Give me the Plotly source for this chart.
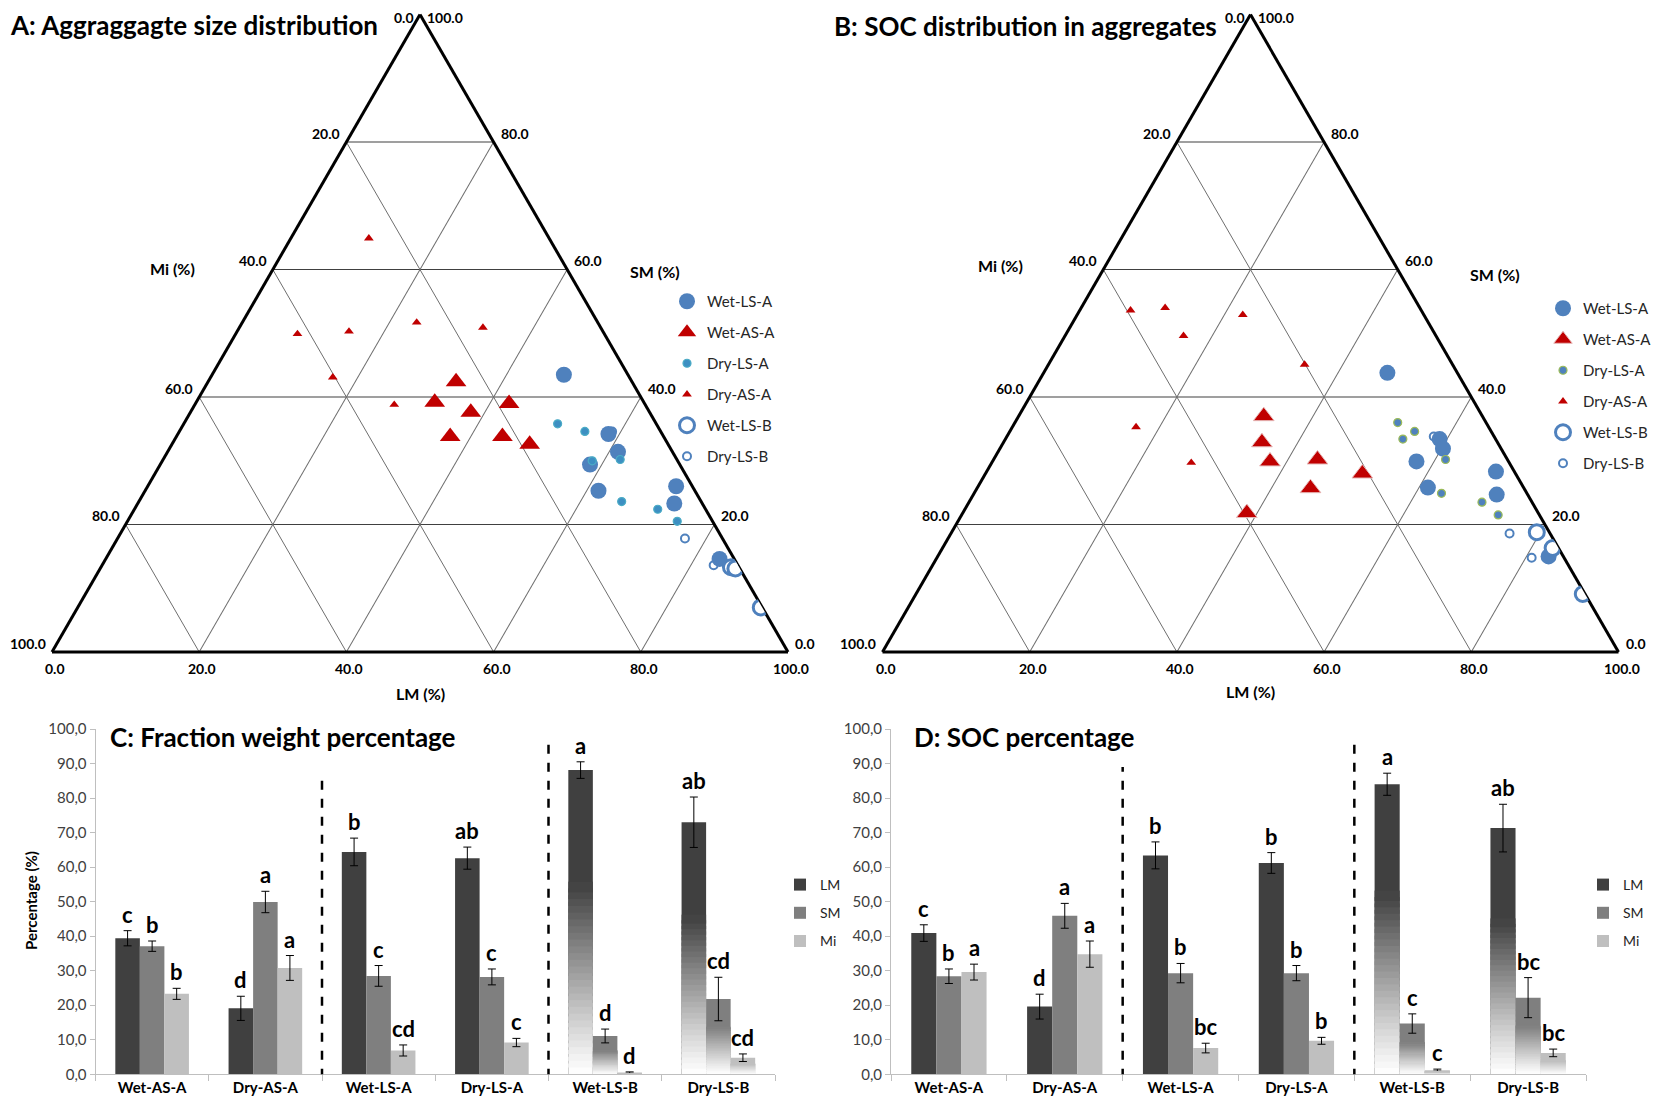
import plotly.graph_objects as go

FONT = "Lato"
W_FIG, H_FIG = 1660, 1107
PAGE_OFF = 8  # browser body margin shifts the figure by this many px

# ---------------- Ternary data (LM, SM, Mi in %) ----------------
# Panel A: aggregate size distribution
A_wls_a_lm = [47.8, 58.5, 61.2, 58.4, 61.6, 71.8, 72.9, 83.4]
A_wls_a_sm = [43.5, 34.2, 31.4, 29.4, 25.3, 26.0, 23.3, 14.6]
A_wls_a_mi = [8.7, 7.3, 7.4, 12.2, 13.1, 2.2, 3.8, 2.0]
A_was_a_lm = [33.7, 32.4, 38.1, 42.6, 37.2, 44.3, 48.6]
A_was_a_sm = [42.4, 39.2, 37.6, 39.0, 33.8, 33.8, 32.6]
A_was_a_mi = [23.9, 28.4, 24.3, 18.4, 29.0, 21.9, 18.8]
A_dls_a_lm = [50.8, 55.1, 58.4, 62.1, 65.6, 71.1, 74.7]
A_dls_a_sm = [35.8, 34.6, 30.0, 30.2, 23.6, 22.4, 20.5]
A_dls_a_mi = [13.4, 10.3, 11.6, 7.7, 10.8, 6.5, 4.8]
A_das_a_lm = [10.6, 8.4, 15.2, 23.7, 33.1, 16.6, 27.1]
A_das_a_sm = [64.9, 49.9, 50.3, 51.7, 50.9, 43.1, 38.8]
A_das_a_mi = [24.5, 41.7, 34.5, 24.6, 16.0, 40.3, 34.1]
A_wls_b_lm = [85.6, 86.3, 92.8]
A_wls_b_sm = [13.3, 13.1, 7.0]
A_wls_b_mi = [1.1, 0.6, 0.2]
A_dls_b_lm = [77.1, 83.1, 58.8]
A_dls_b_sm = [17.8, 13.6, 34.6]
A_dls_b_mi = [5.1, 3.3, 6.6]

# Panel B: SOC distribution in aggregates
B_wls_a_lm = [46.7, 59.0, 60.2, 57.6, 61.2, 69.2, 71.1, 83.0]
B_wls_a_sm = [43.8, 33.4, 31.9, 29.9, 25.8, 28.3, 24.7, 15.0]
B_wls_a_mi = [9.5, 7.6, 7.9, 12.5, 13.0, 2.5, 4.2, 2.0]
B_was_a_lm = [33.3, 35.1, 37.7, 44.0, 51.2, 45.3, 38.6]
B_was_a_sm = [37.0, 32.9, 29.9, 30.2, 28.0, 25.7, 21.8]
B_was_a_mi = [29.7, 32.0, 32.4, 25.8, 20.8, 29.0, 39.6]
B_dls_a_lm = [52.0, 54.0, 55.0, 61.4, 63.5, 69.7, 72.9]
B_dls_a_sm = [36.0, 33.4, 34.6, 30.2, 24.9, 23.5, 21.5]
B_dls_a_mi = [12.0, 12.6, 10.4, 8.4, 11.6, 6.8, 5.6]
B_das_a_lm = [6.9, 11.4, 22.5, 16.1, 34.8, 16.8, 27.1]
B_das_a_sm = [53.6, 54.0, 52.9, 49.6, 45.1, 35.3, 29.7]
B_das_a_mi = [39.5, 34.6, 24.6, 34.3, 20.1, 47.9, 43.2]
B_wls_b_lm = [79.5, 82.9, 90.6]
B_wls_b_sm = [18.8, 16.3, 9.1]
B_wls_b_mi = [1.7, 0.8, 0.3]
B_dls_b_lm = [75.9, 80.8, 58.0]
B_dls_b_sm = [18.6, 14.8, 33.8]
B_dls_b_mi = [5.5, 4.4, 8.2]

tern_tickvals = [0, 20, 40, 60, 80, 100]
tern_ticklabels = ["0.0", "20.0", "40.0", "60.0", "80.0", "100.0"]

# ---------------- Bar data ----------------
cats = ["Wet-AS-A", "Dry-AS-A", "Wet-LS-A", "Dry-LS-A", "Wet-LS-B", "Dry-LS-B"]
gradient_cats = ["Wet-LS-B", "Dry-LS-B"]
C_lm = [39.4, 19.1, 64.4, 62.6, 88.1, 73.0]
C_lm_err = [2.2, 3.5, 4.0, 3.2, 2.4, 7.3]
C_sm = [37.1, 49.9, 28.5, 28.2, 11.1, 21.8]
C_sm_err = [1.5, 3.1, 3.0, 2.3, 2.0, 6.3]
C_mi = [23.3, 30.8, 6.9, 9.2, 0.5, 4.8]
C_mi_err = [1.6, 3.6, 1.6, 1.2, 0.2, 1.1]
C_lm_let = ["c", "d", "b", "ab", "a", "ab"]
C_sm_let = ["b", "a", "c", "c", "d", "cd"]
C_mi_let = ["b", "a", "cd", "c", "d", "cd"]
D_lm = [40.9, 19.6, 63.4, 61.2, 84.0, 71.3]
D_lm_err = [2.4, 3.6, 3.9, 3.0, 3.2, 6.9]
D_sm = [28.4, 45.9, 29.3, 29.3, 14.7, 22.2]
D_sm_err = [2.1, 3.6, 2.8, 2.2, 2.8, 5.8]
D_mi = [29.6, 34.8, 7.6, 9.7, 1.2, 6.2]
D_mi_err = [2.3, 3.8, 1.4, 1.0, 0.3, 1.1]
D_lm_let = ["c", "d", "b", "b", "a", "ab"]
D_sm_let = ["b", "a", "b", "b", "c", "bc"]
D_mi_let = ["a", "a", "bc", "b", "c", "bc"]
ytick_vals = [0, 10, 20, 30, 40, 50, 60, 70, 80, 90, 100]
ytick_text = ["0,0", "10,0", "20,0", "30,0", "40,0", "50,0", "60,0", "70,0", "80,0", "90,0", "100,0"]

BAR_COLORS = {"LM": "#404040", "SM": "#7f7f7f", "Mi": "#bfbfbf"}
BLUE = "#4f81bd"
RED = "#c00000"

fig = go.Figure()


def px_x(v):
    return (v - PAGE_OFF) / W_FIG


def px_y(v):
    return 1 - (v - PAGE_OFF) / H_FIG


# ---------------- Ternary panels ----------------
def add_ternary(sub, legend, d, dry_ls_a_fill, dry_ls_a_line, red_line):
    specs = [
        ("Dry-LS-B", d["dls_b"], dict(symbol="circle", size=8, color="white", line=dict(color=BLUE, width=2)), 6),
        ("Wet-LS-A", d["wls_a"], dict(symbol="circle", size=16, color=BLUE, line=dict(width=0)), 1),
        ("Wet-AS-A", d["was_a"], dict(symbol="triangle-up", size=18, color=RED,
                                      line=dict(color=red_line, width=1 if red_line != RED else 0)), 2),
        ("Dry-LS-A", d["dls_a"], dict(symbol="circle", size=8, color=dry_ls_a_fill, line=dict(color=dry_ls_a_line, width=1.2)), 3),
        ("Dry-AS-A", d["das_a"], dict(symbol="triangle-up", size=8.5, color=RED, line=dict(width=0)), 4),
        ("Wet-LS-B", d["wls_b"], dict(symbol="circle", size=15, color="white", line=dict(color=BLUE, width=3)), 5),
    ]
    for name, (lm, sm, mi), marker, rank in specs:
        fig.add_trace(go.Scatterternary(
            a=sm, b=mi, c=lm, mode="markers", name=name, marker=marker,
            subplot=sub, legend=legend, legendrank=rank, legendgroup=sub + name,
            hoverinfo="skip"))


A_data = dict(
    wls_a=(A_wls_a_lm, A_wls_a_sm, A_wls_a_mi), was_a=(A_was_a_lm, A_was_a_sm, A_was_a_mi),
    dls_a=(A_dls_a_lm, A_dls_a_sm, A_dls_a_mi), das_a=(A_das_a_lm, A_das_a_sm, A_das_a_mi),
    wls_b=(A_wls_b_lm, A_wls_b_sm, A_wls_b_mi), dls_b=(A_dls_b_lm, A_dls_b_sm, A_dls_b_mi))
B_data = dict(
    wls_a=(B_wls_a_lm, B_wls_a_sm, B_wls_a_mi), was_a=(B_was_a_lm, B_was_a_sm, B_was_a_mi),
    dls_a=(B_dls_a_lm, B_dls_a_sm, B_dls_a_mi), das_a=(B_das_a_lm, B_das_a_sm, B_das_a_mi),
    wls_b=(B_wls_b_lm, B_wls_b_sm, B_wls_b_mi), dls_b=(B_dls_b_lm, B_dls_b_sm, B_dls_b_mi))

add_ternary("ternary", "legend", A_data, "#3d8fc2", "#4bacc6", RED)
add_ternary("ternary2", "legend2", B_data, BLUE, "#9bbb59", "#e6b9b8")


def tern_axis(gridcolor):
    return dict(
        min=0, tickmode="array", tickvals=tern_tickvals, showticklabels=False,
        ticks="", showgrid=True, gridcolor=gridcolor, gridwidth=1,
        showline=True, linecolor="black", linewidth=3,
        title=dict(text=""), layer="below traces")


TRI_W = 736.0
TRI_H = TRI_W * 0.8660254
TRI_BOTTOM = 652.0


def tern_layout(cx):
    cy = TRI_BOTTOM - TRI_H / 2
    return dict(
        sum=100, bgcolor="white",
        domain=dict(x=[px_x(cx - TRI_W / 2), px_x(cx + TRI_W / 2)],
                    y=[px_y(cy + TRI_H / 2), px_y(cy - TRI_H / 2)]),
        aaxis=tern_axis("#404040"), baxis=tern_axis("#6e6e6e"), caxis=tern_axis("#6e6e6e"))


annotations = []


def text_ann(x, y, text, size, xanchor="left", yanchor="middle", textangle=0, bold=True, color="black"):
    annotations.append(dict(
        x=px_x(x), y=px_y(y), xref="paper", yref="paper", text=("<b>%s</b>" % text) if bold else text,
        showarrow=False, xanchor=xanchor, yanchor=yanchor, textangle=textangle,
        font=dict(family=FONT, size=size, color=color)))


def tern_tick_labels(cx):
    top = (cx, TRI_BOTTOM - TRI_H)
    bl = (cx - TRI_W / 2, TRI_BOTTOM)
    br = (cx + TRI_W / 2, TRI_BOTTOM)
    for v, lab in zip(tern_tickvals, tern_ticklabels):
        f = v / 100.0
        # left edge: Mi, 0 at top -> 100 at bottom-left
        px_ = top[0] + (bl[0] - top[0]) * f
        py_ = top[1] + (bl[1] - top[1]) * f
        text_ann(px_ - 4, max(py_ - 9, 18), lab, 14, "right")
        # right edge: SM, 100 at top -> 0 at bottom-right
        px_ = br[0] + (top[0] - br[0]) * f
        py_ = br[1] + (top[1] - br[1]) * f
        text_ann(px_ + 5, max(py_ - 9, 18), lab, 14, "left")
        # bottom edge: LM, 0 at left -> 100 at right
        px_ = bl[0] + (br[0] - bl[0]) * f
        text_ann(px_ + 3, TRI_BOTTOM + 16, lab, 14, "center")


tern_tick_labels(420.0)
tern_tick_labels(1250.5)

# ---------------- Bar panels ----------------
GRAD_ZONE = 0.62
N_SEG = 28


def mix(c, f):
    c = c.lstrip("#")
    r, g, b = int(c[0:2], 16), int(c[2:4], 16), int(c[4:6], 16)
    return "rgb(%d,%d,%d)" % (round(255 + (r - 255) * f), round(255 + (g - 255) * f), round(255 + (b - 255) * f))


def add_bars(xa, ya, legend, series):
    for name, vals, errs in series:
        col = BAR_COLORS[name]
        fig.add_trace(go.Bar(
            x=cats, y=vals, name=name, offsetgroup=name, xaxis=xa, yaxis=ya, legend=legend,
            legendgroup=legend + name,
            marker=dict(color=col, line=dict(width=0)),
            error_y=dict(type="data", array=errs, color="black", thickness=1, width=4),
            hoverinfo="skip"))
        gvals = [vals[cats.index(c)] for c in gradient_cats]
        for k in range(N_SEG):
            f = (k + 0.5) / N_SEG
            fig.add_trace(go.Bar(
                x=gradient_cats, y=[v * GRAD_ZONE * 1.6 / N_SEG for v in gvals],
                base=[v * GRAD_ZONE * k / N_SEG for v in gvals],
                offsetgroup=name, xaxis=xa, yaxis=ya, showlegend=False,
                marker=dict(color=mix(col, f ** 1.1), line=dict(width=0)), hoverinfo="skip"))


add_bars("x", "y", "legend3", [("LM", C_lm, C_lm_err), ("SM", C_sm, C_sm_err), ("Mi", C_mi, C_mi_err)])
add_bars("x2", "y2", "legend4", [("LM", D_lm, D_lm_err), ("SM", D_sm, D_sm_err), ("Mi", D_mi, D_mi_err)])

BARGAP = 0.35
BW = (1 - BARGAP) / 3


def letters(xref, yref, series):
    for j, (vals, errs, lets) in enumerate(series):
        off = (j - 1) * BW
        for i, (v, e, t) in enumerate(zip(vals, errs, lets)):
            annotations.append(dict(
                x=i + off, y=v + e, xref=xref, yref=yref, text="<b>%s</b>" % t, showarrow=False,
                yanchor="bottom", yshift=1, font=dict(family=FONT, size=22, color="black")))


letters("x", "y", [(C_lm, C_lm_err, C_lm_let), (C_sm, C_sm_err, C_sm_let), (C_mi, C_mi_err, C_mi_let)])
letters("x2", "y2", [(D_lm, D_lm_err, D_lm_let), (D_sm, D_sm_err, D_sm_let), (D_mi, D_mi_err, D_mi_let)])

text_ann(8, 25, "A: Aggraggagte size distribution", 26)
text_ann(832, 26, "B: SOC distribution in aggregates", 26)
text_ann(172, 268, "Mi (%)", 16, "center")
text_ann(655, 272, "SM (%)", 16, "center")
text_ann(420, 693, "LM (%)", 16, "center")
text_ann(1000, 265, "Mi (%)", 16, "center")
text_ann(1495, 274, "SM (%)", 16, "center")
text_ann(1250, 691, "LM (%)", 16, "center")
text_ann(108, 737, "C: Fraction weight percentage", 26)
text_ann(912, 737, "D: SOC percentage", 26)
text_ann(31, 901, "Percentage (%)", 15, "center", textangle=-90)

shapes = []
for xref, yref, xpos, top in [("x", "y", 1.5, 87.5), ("x", "y", 3.5, 97.7), ("x2", "y2", 1.5, 89.0), ("x2", "y2", 3.5, 98.0)]:
    shapes.append(dict(type="line", xref=xref, yref=yref, x0=xpos, x1=xpos, y0=-1.0, y1=top,
                       line=dict(color="black", width=2.5, dash="dash")))


def yaxis(domain, anchor):
    return dict(domain=domain, anchor=anchor, range=[0, 100], tickmode="array", tickvals=ytick_vals,
                ticktext=ytick_text, showline=True, linecolor="#bfbfbf", linewidth=1, ticks="outside",
                ticklen=5, tickcolor="#bfbfbf", showgrid=False, zeroline=False, automargin=False,
                tickfont=dict(family=FONT, size=15, color="#404040"))


def xaxis(domain, anchor):
    return dict(domain=domain, anchor=anchor, showline=True, linecolor="#bfbfbf", linewidth=1,
                ticks="outside", tickson="boundaries", ticklen=6, tickcolor="#bfbfbf", showgrid=False,
                automargin=False,
                tickfont=dict(family=FONT, size=15, color="black", weight="bold"))


Y_DOM = [px_y(1074.3), px_y(729)]


def legend_cfg(x, y, size, gap):
    return dict(x=px_x(x), y=px_y(y), xanchor="left", yanchor="top", bgcolor="rgba(0,0,0,0)",
                font=dict(family=FONT, size=size, color="#262626"), tracegroupgap=gap,
                itemclick=False, itemdoubleclick=False)


fig.update_layout(
    width=W_FIG, height=H_FIG, autosize=False,
    margin=dict(l=0, r=0, t=0, b=0, autoexpand=False),
    paper_bgcolor="white", plot_bgcolor="white",
    font=dict(family=FONT),
    ternary=tern_layout(420.0),
    ternary2=tern_layout(1250.5),
    xaxis=xaxis([px_x(95.5), px_x(775)], "y"),
    yaxis=yaxis(Y_DOM, "x"),
    xaxis2=xaxis([px_x(891), px_x(1586)], "y2"),
    yaxis2=yaxis(Y_DOM, "x2"),
    barmode="group", bargap=BARGAP, bargroupgap=0,
    legend=legend_cfg(667, 285, 15, 8.5),
    legend2=legend_cfg(1543, 292, 15, 8.5),
    legend3=legend_cfg(780, 869, 14, 7),
    legend4=legend_cfg(1583, 869, 14, 7),
    annotations=annotations, shapes=shapes,
    showlegend=True,
)

fig.write_html("out.html")
